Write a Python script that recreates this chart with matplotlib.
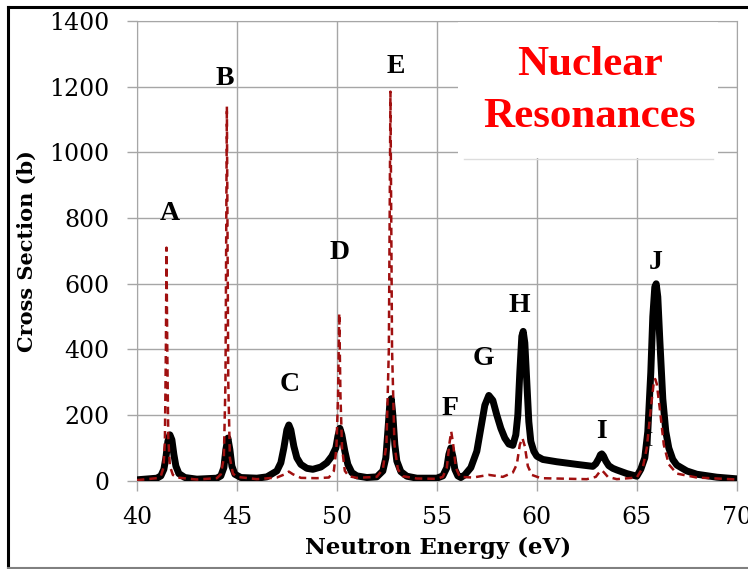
import matplotlib.pyplot as plt
from matplotlib.patches import Rectangle
from matplotlib.lines import Line2D

# total cross section (black) vs neutron energy
energy_total = [40.0, 41.0, 41.2, 41.35, 41.45, 41.55, 41.65, 41.75, 41.85, 41.95,
                42.1, 42.4, 43.0, 44.0, 44.2, 44.35, 44.45, 44.55, 44.65, 44.75,
                44.9, 45.2, 46.0, 46.5, 47.0, 47.2, 47.35, 47.5, 47.6, 47.7,
                47.85, 48.0, 48.2, 48.5, 48.8, 49.2, 49.5, 49.75, 49.95, 50.05,
                50.15, 50.25, 50.4, 50.55, 50.75, 51.0, 51.5, 52.0, 52.3, 52.45,
                52.55, 52.65, 52.72, 52.8, 52.9, 53.0, 53.2, 53.5, 54.0, 55.0,
                55.3, 55.5, 55.6, 55.7, 55.8, 55.9, 56.05, 56.2, 56.4, 56.7,
                57.0, 57.2, 57.4, 57.6, 57.8, 58.0, 58.2, 58.4, 58.6, 58.8,
                58.95, 59.05, 59.15, 59.25, 59.32, 59.4, 59.5, 59.6, 59.7, 59.85,
                60.0, 60.3, 61.0, 62.0, 62.8, 62.95, 63.1, 63.18, 63.25, 63.33,
                63.45, 63.6, 63.8, 64.0, 64.5, 65.0, 65.2, 65.4, 65.55, 65.7,
                65.8, 65.9, 65.97, 66.05, 66.15, 66.3, 66.45, 66.6, 66.8, 67.0,
                67.5, 68.0, 69.0, 70.0]
sigma_total = [3, 8, 15, 35, 70, 120, 140, 125, 80, 45,
               22, 10, 5, 8, 15, 40, 95, 130, 95, 45,
               20, 10, 8, 12, 30, 55, 100, 155, 170, 155,
               105, 70, 50, 38, 35, 42, 55, 75, 100, 135,
               160, 140, 90, 50, 25, 15, 10, 12, 30, 70,
               150, 235, 250, 200, 110, 60, 28, 14, 8, 8,
               15, 40, 80, 100, 75, 35, 15, 10, 18, 40,
               90, 160, 230, 260, 245, 200, 160, 130, 112, 108,
               140, 200, 330, 440, 455, 420, 300, 180, 120, 90,
               75, 65, 58, 50, 44, 52, 68, 79, 82, 76,
               60, 46, 38, 33, 22, 14, 35, 70, 150, 330,
               500, 590, 600, 560, 430, 250, 150, 100, 65, 48,
               30, 20, 11, 6]

# partial cross section (dashed red)
energy_part = [40.0, 41.0, 41.2, 41.33, 41.4, 41.45, 41.48, 41.52, 41.57, 41.65,
               41.8, 42.0, 43.0, 44.0, 44.2, 44.35, 44.43, 44.5, 44.57, 44.65,
               44.8, 45.0, 46.0, 47.0, 47.4, 47.6, 47.8, 48.2, 49.0, 49.6,
               49.85, 49.98, 50.06, 50.12, 50.18, 50.26, 50.4, 50.6, 51.0, 52.0,
               52.3, 52.48, 52.6, 52.68, 52.76, 52.88, 53.05, 53.3, 54.0, 55.0,
               55.3, 55.5, 55.62, 55.72, 55.82, 55.95, 56.15, 56.8, 57.6, 58.3,
               58.8, 59.0, 59.15, 59.28, 59.4, 59.55, 59.75, 60.2, 62.5, 62.95,
               63.15, 63.25, 63.35, 63.55, 64.0, 65.0, 65.3, 65.5, 65.7, 65.85,
               65.92, 66.0, 66.15, 66.35, 66.6, 67.0, 68.0, 70.0]
sigma_part = [2, 8, 15, 40, 120, 400, 710, 400, 130, 45,
              18, 10, 4, 8, 20, 70, 300, 1140, 300, 70,
              22, 12, 5, 10, 20, 28, 20, 9, 8, 10,
              30, 100, 260, 510, 260, 100, 30, 14, 9, 12,
              35, 110, 400, 1185, 400, 110, 35, 14, 7, 6,
              12, 40, 110, 150, 110, 40, 12, 10, 18, 12,
              25, 50, 110, 130, 105, 45, 18, 8, 5, 12,
              28, 32, 26, 12, 5, 10, 40, 100, 220, 300,
              310, 295, 220, 110, 50, 22, 10, 4]

# resonance labels
peak_names = ["A", "B", "C", "D", "E", "F", "G", "H", "I", "J"]
peak_x = [41.65, 44.4, 47.65, 50.15, 52.95, 55.65, 57.35, 59.1, 63.25, 65.95]
peak_y = [814, 1225, 293, 695, 1262, 220, 372, 534, 149, 665]

fig = plt.figure(figsize=(7.48, 5.69), dpi=100)
ax = fig.add_axes([0.183, 0.155, 0.802, 0.808])

grid_col = "#a6a6a6"
ax.set_xlim(40, 70)
ax.set_ylim(0, 1400)
ax.set_xticks(range(40, 71, 5))
ax.set_yticks(range(0, 1401, 200))
ax.grid(True, color=grid_col, linewidth=1.0)
ax.set_axisbelow(True)
for s in ax.spines.values():
    s.set_color(grid_col)
ax.tick_params(color=grid_col, length=7, width=1.0, labelsize=17)
ax.tick_params(axis="y", pad=13)
ax.tick_params(axis="x", pad=11)
for lab in ax.get_xticklabels() + ax.get_yticklabels():
    lab.set_family("DejaVu Serif")

ax.set_xlabel("Neutron Energy (eV)", family="DejaVu Serif", fontweight="bold",
              fontsize=16.5)
ax.set_ylabel("Cross Section (b)", family="DejaVu Serif", fontweight="bold",
              fontsize=15)
ax.xaxis.set_label_coords(0.502, -0.122)
ax.yaxis.set_label_coords(-0.167, 0.5)

ax.plot(energy_total, sigma_total, color="black", linewidth=5,
        solid_joinstyle="round", solid_capstyle="round", zorder=3)
ax.plot(energy_part, sigma_part, color="#a01010", linewidth=1.8,
        linestyle=(0, (3, 2)), zorder=4)

for name, x, y in zip(peak_names, peak_x, peak_y):
    ax.text(x, y, name, ha="center", va="center", family="Liberation Serif",
            fontweight="bold", fontsize=20, zorder=5)
# stray label partly hidden behind the J peak
ax.text(65.6, 120, "I", ha="center", va="center", family="Liberation Serif",
        fontweight="bold", fontsize=15, color="#333333", zorder=2)

# title box
ax.add_patch(Rectangle((0.535, 0.702), 0.433, 0.296, transform=ax.transAxes,
                       facecolor="white", edgecolor="none", zorder=2.5))
ax.add_line(Line2D([0.545, 0.96], [0.700, 0.700], transform=ax.transAxes,
                   color="#dddddd", linewidth=1, zorder=2.5))
ax.text(0.755, 0.904, "Nuclear", transform=ax.transAxes, ha="center",
        va="center", color="red", family="Liberation Serif",
        fontweight="bold", fontsize=31, zorder=6)
ax.text(0.755, 0.791, "Resonances", transform=ax.transAxes, ha="center",
        va="center", color="red", family="Liberation Serif",
        fontweight="bold", fontsize=31, zorder=6)

# outer frame
fig.add_artist(Line2D([0.011, 1.0], [0.988, 0.988], color="black", linewidth=2.2))
fig.add_artist(Line2D([0.011, 0.011], [0.002, 0.988], color="black", linewidth=2.2))
fig.add_artist(Line2D([0.011, 1.0], [0.002, 0.002], color="#808080", linewidth=1.5))

fig.savefig("out.png", dpi=100)
